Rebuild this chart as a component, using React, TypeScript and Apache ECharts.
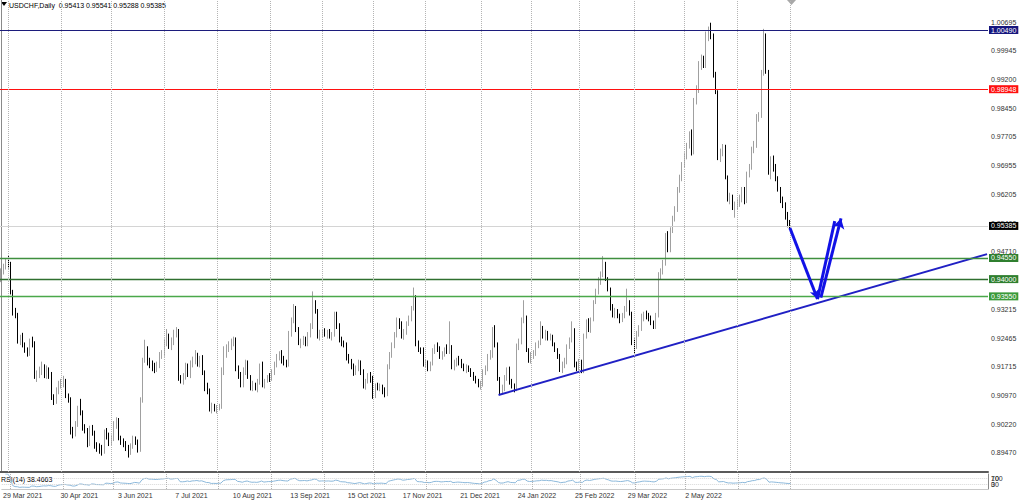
import React, { useEffect, useRef } from "react";
import * as echarts from "echarts";

// ---------- data ----------
const symbolTitle = "USDCHF,Daily";
const lastQuote = ["0.95413", "0.95541", "0.95288", "0.95385"];
const rsiTitle = "RSI(14) 38.4663";
const firstDate = [2021, 2, 29];
const slotCount = 412;

const dateLabels = [
  "29 Mar 2021", "30 Apr 2021", "3 Jun 2021", "7 Jul 2021", "10 Aug 2021", "13 Sep 2021", "15 Oct 2021",
  "17 Nov 2021", "21 Dec 2021", "24 Jan 2022", "25 Feb 2022", "29 Mar 2022", "2 May 2022", "3 Jun 2022",
];

const priceTicks = [
  1.00695, 0.99945, 0.992, 0.9845, 0.97705, 0.96955, 0.96205, 0.9546, 0.9471, 0.93965, 0.93215, 0.92465,
  0.91715, 0.9097, 0.9022, 0.8947,
];
const priceMin = 0.88974;
const priceMax = 1.01272;

const resistanceHigh = 1.0049;
const resistanceMid = 0.98948;
const supportLevels = [0.9455, 0.94, 0.9355];
const bidPrice = 0.95385;

const trendLine = [[207.4, 0.9098], [411.1, 0.9465]];
const arrowDown = [[328.9, 0.9533], [340.4, 0.9348]];
const arrowUpA = [[340.4, 0.9348], [347.6, 0.9551]];
const arrowUpB = [[341.8, 0.9352], [350.2, 0.9558]];

const rsiLevels = [30, 70];
const rsiScaleLabels = [["30", "0"], ["70", "100"]];

// OHLC per trading day: [open, high, low, close]
const barsAprJun2021 = [
  [.9400,.9428,.9392,.9420],[.9420,.9440,.9412,.9432],[.9432,.9455,.9425,.9445],[.9445,.9460,.9428,.9438],
  [.9438,.9445,.9360,.9365],[.9365,.9372,.9305,.9312],[.9312,.9325,.9298,.9305],[.9305,.9312,.9232,.9237],
  [.9237,.9255,.9228,.9242],[.9242,.9260,.9222,.9228],[.9228,.9235,.9208,.9215],[.9215,.9222,.9198,.9205],
  [.9205,.9245,.9200,.9235],[.9235,.9250,.9222,.9230],[.9230,.9238,.9140,.9145],[.9145,.9162,.9132,.9150],
  [.9150,.9172,.9142,.9160],[.9160,.9185,.9150,.9170],[.9170,.9178,.9142,.9150],[.9150,.9175,.9140,.9162],
  [.9162,.9170,.9140,.9150],[.9150,.9158,.9085,.9090],[.9090,.9100,.9072,.9080],[.9080,.9118,.9075,.9110],
  [.9110,.9135,.9100,.9125],[.9125,.9140,.9115,.9130],[.9130,.9148,.9118,.9135],[.9135,.9140,.9090,.9095],
  [.9095,.9102,.9078,.9085],[.9085,.9092,.8995,.9000],[.9000,.9015,.8985,.8998],[.8998,.9030,.8990,.9022],
  [.9022,.9070,.9015,.9062],[.9062,.9088,.9045,.9052],[.9052,.9058,.9005,.9010],[.9010,.9022,.8998,.9005],
  [.9005,.9012,.8962,.8970],[.8970,.9018,.8965,.9010],[.9010,.9020,.8992,.9000],[.9000,.9005,.8958,.8965],
  [.8965,.8975,.8950,.8960],[.8960,.8972,.8945,.8955],[.8955,.8968,.8940,.8950],[.8950,.9008,.8945,.9000],
  [.9000,.9012,.8982,.8990],[.8990,.9000,.8965,.8975],[.8975,.8995,.8968,.8985],[.8985,.9030,.8978,.9020],
  [.9020,.9040,.9010,.9030],[.9030,.9038,.8980,.8985],[.8985,.8992,.8968,.8975],[.8975,.8985,.8962,.8970],
  [.8970,.8978,.8952,.8960],[.8960,.8968,.8935,.8950],[.8950,.8972,.8942,.8965],[.8965,.8992,.8958,.8985],
  [.8985,.8990,.8968,.8975],[.8975,.8982,.8948,.8955],[.8955,.9092,.8950,.9085],[.9085,.9195,.9078,.9190],
];
const barsJulSep2021 = [
  [.9190,.9242,.9182,.9215],[.9215,.9225,.9175,.9180],[.9180,.9195,.9168,.9178],[.9178,.9188,.9160,.9170],
  [.9170,.9182,.9155,.9165],[.9165,.9185,.9158,.9175],[.9175,.9210,.9168,.9200],[.9200,.9215,.9192,.9205],
  [.9205,.9245,.9198,.9235],[.9235,.9270,.9225,.9250],[.9250,.9258,.9218,.9225],[.9225,.9248,.9215,.9235],
  [.9235,.9268,.9228,.9260],[.9260,.9275,.9248,.9265],[.9265,.9270,.9135,.9140],[.9140,.9150,.9128,.9135],
  [.9135,.9155,.9125,.9145],[.9145,.9182,.9138,.9175],[.9175,.9180,.9145,.9150],[.9150,.9188,.9142,.9180],
  [.9180,.9198,.9170,.9185],[.9185,.9215,.9178,.9200],[.9200,.9208,.9172,.9178],[.9178,.9200,.9170,.9190],
  [.9190,.9202,.9150,.9155],[.9155,.9162,.9108,.9115],[.9115,.9130,.9100,.9110],[.9110,.9115,.9055,.9062],
  [.9062,.9078,.9050,.9065],[.9065,.9075,.9055,.9060],[.9060,.9072,.9050,.9065],[.9065,.9075,.9058,.9068],
  [.9068,.9170,.9062,.9160],[.9160,.9225,.9150,.9210],[.9210,.9230,.9195,.9220],[.9220,.9238,.9210,.9225],
  [.9225,.9245,.9215,.9238],[.9238,.9250,.9225,.9240],[.9240,.9248,.9160,.9165],[.9165,.9175,.9140,.9150],
  [.9150,.9158,.9118,.9125],[.9125,.9170,.9118,.9160],[.9160,.9190,.9150,.9180],[.9180,.9188,.9140,.9145],
  [.9145,.9150,.9110,.9120],[.9120,.9135,.9108,.9125],[.9125,.9130,.9110,.9115],[.9115,.9140,.9105,.9132],
  [.9132,.9180,.9125,.9172],[.9172,.9185,.9118,.9122],[.9122,.9140,.9115,.9135],[.9135,.9150,.9130,.9145],
  [.9145,.9155,.9132,.9140],[.9140,.9165,.9135,.9158],[.9158,.9185,.9150,.9178],[.9178,.9205,.9170,.9198],
  [.9198,.9212,.9188,.9205],[.9205,.9215,.9180,.9190],[.9190,.9200,.9175,.9182],[.9182,.9190,.9170,.9178],
];
const barsSepDec2021 = [
  [.9178,.9265,.9172,.9258],[.9258,.9300,.9250,.9292],[.9292,.9335,.9285,.9325],[.9325,.9330,.9262,.9268],
  [.9268,.9275,.9228,.9232],[.9232,.9245,.9220,.9238],[.9238,.9252,.9228,.9245],[.9245,.9250,.9225,.9230],
  [.9230,.9262,.9225,.9255],[.9255,.9285,.9248,.9278],[.9278,.9368,.9270,.9335],[.9335,.9345,.9310,.9318],
  [.9318,.9322,.9245,.9250],[.9250,.9268,.9240,.9258],[.9258,.9270,.9248,.9262],[.9262,.9272,.9250,.9255],
  [.9255,.9268,.9245,.9260],[.9260,.9270,.9245,.9250],[.9250,.9262,.9240,.9255],[.9255,.9315,.9250,.9298],
  [.9298,.9315,.9270,.9280],[.9280,.9285,.9235,.9240],[.9240,.9250,.9225,.9232],[.9232,.9240,.9222,.9228],
  [.9228,.9235,.9188,.9195],[.9195,.9205,.9180,.9188],[.9188,.9192,.9165,.9170],[.9170,.9180,.9148,.9155],
  [.9155,.9175,.9150,.9168],[.9168,.9190,.9160,.9182],[.9182,.9188,.9150,.9158],[.9158,.9165,.9115,.9120],
  [.9120,.9140,.9112,.9135],[.9135,.9155,.9128,.9148],[.9148,.9158,.9130,.9140],[.9140,.9148,.9088,.9095],
  [.9095,.9128,.9090,.9120],[.9120,.9130,.9110,.9115],[.9115,.9128,.9108,.9120],[.9120,.9125,.9100,.9110],
  [.9110,.9118,.9092,.9100],[.9100,.9178,.9095,.9170],[.9170,.9210,.9165,.9202],[.9202,.9235,.9195,.9228],
  [.9228,.9262,.9220,.9255],[.9255,.9300,.9248,.9292],[.9292,.9298,.9270,.9280],[.9280,.9290,.9245,.9250],
  [.9250,.9270,.9242,.9262],[.9262,.9290,.9255,.9285],[.9285,.9305,.9278,.9298],[.9298,.9330,.9290,.9325],
  [.9325,.9378,.9318,.9350],[.9350,.9358,.9225,.9230],[.9230,.9240,.9210,.9218],[.9218,.9222,.9205,.9215],
  [.9215,.9222,.9172,.9178],[.9178,.9190,.9170,.9182],[.9182,.9188,.9160,.9165],[.9165,.9185,.9160,.9180],
];
const barsDec2021Mar2022 = [
  [.9180,.9220,.9175,.9215],[.9215,.9230,.9205,.9222],[.9222,.9235,.9210,.9218],[.9218,.9225,.9192,.9198],
  [.9198,.9212,.9190,.9205],[.9205,.9222,.9198,.9215],[.9215,.9230,.9205,.9210],[.9210,.9290,.9205,.9220],
  [.9220,.9228,.9165,.9170],[.9170,.9190,.9162,.9180],[.9180,.9195,.9172,.9188],[.9188,.9200,.9175,.9182],
  [.9182,.9192,.9168,.9175],[.9175,.9180,.9160,.9165],[.9165,.9178,.9155,.9170],[.9170,.9175,.9158,.9162],
  [.9162,.9168,.9145,.9150],[.9150,.9158,.9135,.9140],[.9140,.9148,.9128,.9135],[.9135,.9140,.9118,.9122],
  [.9122,.9135,.9112,.9128],[.9128,.9165,.9120,.9158],[.9158,.9175,.9150,.9168],[.9168,.9205,.9160,.9198],
  [.9198,.9215,.9190,.9205],[.9205,.9275,.9195,.9268],[.9268,.9280,.9222,.9228],[.9228,.9235,.9135,.9140],
  [.9140,.9145,.9100,.9110],[.9110,.9125,.9102,.9115],[.9115,.9150,.9108,.9142],[.9142,.9170,.9135,.9165],
  [.9165,.9172,.9125,.9130],[.9130,.9140,.9115,.9122],[.9122,.9128,.9105,.9112],[.9112,.9232,.9108,.9225],
  [.9225,.9245,.9215,.9238],[.9238,.9300,.9230,.9292],[.9292,.9345,.9285,.9300],[.9300,.9305,.9210,.9215],
  [.9215,.9220,.9182,.9188],[.9188,.9210,.9180,.9200],[.9200,.9215,.9192,.9208],[.9208,.9235,.9200,.9228],
  [.9228,.9240,.9220,.9232],[.9232,.9290,.9228,.9265],[.9265,.9278,.9245,.9255],[.9255,.9268,.9240,.9260],
  [.9260,.9265,.9240,.9245],[.9245,.9258,.9240,.9250],[.9250,.9255,.9225,.9230],[.9230,.9235,.9210,.9215],
  [.9215,.9220,.9192,.9198],[.9198,.9205,.9158,.9165],[.9165,.9185,.9155,.9178],[.9178,.9195,.9168,.9185],
  [.9185,.9230,.9178,.9225],[.9225,.9248,.9218,.9240],[.9240,.9290,.9235,.9265],[.9265,.9272,.9170,.9176],
];
const barsMarMay2022 = [
  [.9176,.9185,.9160,.9168],[.9168,.9192,.9162,.9185],[.9185,.9190,.9155,.9160],[.9160,.9258,.9155,.9250],
  [.9250,.9295,.9245,.9290],[.9290,.9298,.9262,.9268],[.9268,.9300,.9260,.9295],[.9295,.9345,.9290,.9340],
  [.9340,.9375,.9335,.9368],[.9368,.9405,.9360,.9398],[.9398,.9420,.9385,.9412],[.9412,.9460,.9405,.9440],
  [.9440,.9445,.9395,.9400],[.9400,.9405,.9368,.9372],[.9372,.9378,.9318,.9322],[.9322,.9335,.9300,.9310],
  [.9310,.9325,.9298,.9318],[.9318,.9322,.9298,.9302],[.9302,.9310,.9285,.9295],[.9295,.9312,.9288,.9305],
  [.9305,.9330,.9298,.9325],[.9325,.9375,.9315,.9340],[.9340,.9345,.9305,.9310],[.9310,.9315,.9228,.9232],
  [.9232,.9245,.9205,.9225],[.9225,.9265,.9218,.9258],[.9258,.9280,.9250,.9272],[.9272,.9310,.9265,.9300],
  [.9300,.9315,.9290,.9308],[.9308,.9318,.9295,.9302],[.9302,.9312,.9290,.9298],[.9298,.9305,.9280,.9285],
  [.9285,.9292,.9270,.9275],[.9275,.9312,.9270,.9305],[.9305,.9418,.9300,.9410],[.9410,.9428,.9400,.9420],
  [.9420,.9450,.9412,.9442],[.9442,.9520,.9435,.9512],[.9512,.9525,.9470,.9478],[.9478,.9535,.9470,.9528],
  [.9528,.9565,.9520,.9560],[.9560,.9590,.9550,.9582],[.9582,.9640,.9575,.9632],[.9632,.9672,.9625,.9665],
  [.9665,.9705,.9655,.9698],[.9698,.9730,.9690,.9725],[.9725,.9755,.9712,.9748],[.9748,.9785,.9740,.9778],
  [.9778,.9790,.9722,.9730],[.9730,.9872,.9725,.9865],[.9865,.9905,.9855,.9895],[.9895,.9968,.9885,.9960],
  [.9960,.9985,.9945,.9975],[.9975,.9982,.9950,.9958],[.9958,1.0045,.9950,1.0036],[1.0036,1.0058,1.0020,1.0045],
  [1.0045,1.0068,1.0025,1.0030],[1.0030,1.0040,.9925,.9930],[.9930,.9940,.9882,.9888],[.9888,.9892,.9710,.9718],
];
const barsMayJul2022 = [
  [.9718,.9740,.9705,.9730],[.9730,.9752,.9720,.9745],[.9745,.9750,.9660,.9665],[.9665,.9670,.9602,.9608],
  [.9608,.9625,.9595,.9615],[.9615,.9620,.9580,.9585],[.9585,.9602,.9560,.9595],[.9595,.9610,.9580,.9600],
  [.9600,.9620,.9588,.9612],[.9612,.9640,.9600,.9632],[.9632,.9640,.9595,.9602],[.9602,.9680,.9598,.9672],
  [.9672,.9700,.9665,.9692],[.9692,.9745,.9685,.9738],[.9738,.9760,.9728,.9750],[.9750,.9830,.9742,.9822],
  [.9822,.9835,.9810,.9828],[.9828,.9945,.9820,.9938],[.9938,1.0052,.9930,1.0012],[1.0012,1.0040,.9935,.9940],
  [.9940,.9945,.9672,.9680],[.9680,.9720,.9660,.9710],[.9710,.9722,.9680,.9690],[.9690,.9700,.9655,.9662],
  [.9662,.9668,.9628,.9635],[.9635,.9640,.9598,.9605],[.9605,.9615,.9585,.9595],[.9595,.9600,.9555,.9560],
  [.9560,.9575,.9535,.9541],[.95413,.95541,.95288,.95385],
];

// ---------- derived ----------
const bars = [
  ...barsAprJun2021, ...barsJulSep2021, ...barsSepDec2021,
  ...barsDec2021Mar2022, ...barsMarMay2022, ...barsMayJul2022,
];
const MONTHS = ["Jan", "Feb", "Mar", "Apr", "May", "Jun", "Jul", "Aug", "Sep", "Oct", "Nov", "Dec"];
const categories: string[] = [];
const monthOf: number[] = [];
{
  let t = Date.UTC(firstDate[0], firstDate[1], firstDate[2]);
  while (categories.length < slotCount) {
    const d = new Date(t);
    const wd = d.getUTCDay();
    if (wd !== 0 && wd !== 6) {
      categories.push(`${d.getUTCDate()} ${MONTHS[d.getUTCMonth()]} ${d.getUTCFullYear()}`);
      monthOf.push(d.getUTCMonth());
    }
    t += 86400000;
  }
}
const monthStarts: number[] = [];
for (let i = 1; i < bars.length; i++) if (monthOf[i] !== monthOf[i - 1]) monthStarts.push(i);

const closes = bars.map((b) => b[3]);
function computeRsi(c: number[], period: number) {
  const out: (number | string)[] = ["-"];
  let ag = 0;
  let al = 0;
  for (let i = 1; i < c.length; i++) {
    const ch = c[i] - c[i - 1];
    const g = Math.max(ch, 0);
    const l = Math.max(-ch, 0);
    const n = Math.min(i, period);
    ag = (ag * (n - 1) + g) / n;
    al = (al * (n - 1) + l) / n;
    out.push(al === 0 ? 100 : 100 - 100 / (1 + ag / al));
  }
  return out;
}
const rsiValues = computeRsi(closes, 14);

const FONT = "Liberation Sans, Arial, sans-serif";

export default function App() {
  const ref = useRef<HTMLDivElement>(null);
  useEffect(() => {
    if (!ref.current) return;
    const chart = echarts.init(ref.current, null, { renderer: "svg" });
    const levelLabel = (bg: string) => ({
      show: true,
      position: "end",
      distance: 1,
      formatter: (p: any) => Number(p.value).toFixed(5),
      color: "#ffffff",
      backgroundColor: bg,
      padding: [1, 2, 0, 2],
      fontSize: 7,
      fontFamily: FONT,
    });
    const supportColors = ["#3f8f3f", "#2f6f2f", "#4aa84a"];
    const supportBoxes = ["#2f7f2f", "#2f7f2f", "#3a9a3a"];

    // one small axis per RSI scale label so none of them is hidden by overlap handling
    const rsiScaleAxes: any[] = [];
    rsiLevels.forEach((lvl, k) => {
      rsiScaleLabels[k].forEach((txt) => {
        rsiScaleAxes.push({
          type: "value", gridIndex: 1, position: "right", min: 0, max: 100,
          axisLine: { show: false }, axisTick: { show: false }, splitLine: { show: false },
          axisLabel: {
            customValues: [lvl],
            formatter: () => txt,
            fontSize: 7, color: "#333333", margin: 3, fontFamily: FONT,
          },
        });
      });
    });

    const option: any = {
      animation: false,
      textStyle: { fontFamily: FONT },
      grid: [
        { left: 0, top: 0, width: 988, height: 472 },
        { left: 0, top: 474, width: 988, height: 15 },
      ],
      xAxis: [
        {
          type: "category", gridIndex: 0, data: categories, boundaryGap: true,
          axisLine: { show: true, lineStyle: { color: "#5a5a5a", width: 2 } },
          axisTick: { show: false }, axisLabel: { show: false }, splitLine: { show: false },
        },
        { type: "value", gridIndex: 0, min: -0.5, max: slotCount - 0.5, show: false },
        {
          type: "category", gridIndex: 1, data: categories, boundaryGap: true,
          axisLine: { show: true, lineStyle: { color: "#c8c8c8", width: 1 } },
          axisTick: { show: false }, splitLine: { show: false },
          axisLabel: {
            show: true,
            interval: (_i: number, v: string) => dateLabels.includes(v),
            showMaxLabel: false,
            align: "left",
            fontSize: 7,
            color: "#333333",
            margin: 3,
            fontFamily: FONT,
          },
        },
      ],
      yAxis: [
        {
          type: "value", gridIndex: 0, position: "right", min: priceMin, max: priceMax,
          axisLine: { show: true, lineStyle: { color: "#8a8a8a" } },
          axisTick: { show: false }, splitLine: { show: false },
          axisLabel: {
            customValues: priceTicks,
            hideOverlap: false,
            formatter: (v: number) => v.toFixed(5),
            fontSize: 7, color: "#333333", margin: 3, fontFamily: FONT,
          },
        },
        {
          type: "value", gridIndex: 1, position: "right", min: 0, max: 100,
          axisLine: { show: true, lineStyle: { color: "#8a8a8a" } },
          axisTick: { show: false }, splitLine: { show: false }, axisLabel: { show: false },
        },
        ...rsiScaleAxes,
      ],
      series: [
        {
          type: "candlestick",
          xAxisIndex: 0, yAxisIndex: 0,
          data: bars.map(([o, h, l, c]) => [o, c, l, h]),
          barWidth: 1.3,
          itemStyle: {
            color: "#e2e2e2", color0: "#000000",
            borderColor: "#a0a0a0", borderColor0: "#000000", borderWidth: 1,
          },
          silent: true,
          markLine: {
            silent: true, symbol: ["none", "none"], precision: 5,
            data: [
              { yAxis: bidPrice, lineStyle: { color: "#d4d4d4", width: 1, type: "solid" }, label: levelLabel("#000000") },
              { yAxis: resistanceHigh, lineStyle: { color: "#1c1c7c", width: 1.2, type: "solid" }, label: levelLabel("#16167e") },
              { yAxis: resistanceMid, lineStyle: { color: "#ff1010", width: 1.2, type: "solid" }, label: levelLabel("#ff1010") },
              ...supportLevels.map((v, k) => ({
                yAxis: v,
                lineStyle: { color: supportColors[k], width: 1.4, type: "solid" },
                label: levelLabel(supportBoxes[k]),
              })),
            ],
          },
        },
        {
          type: "line",
          xAxisIndex: 1, yAxisIndex: 0,
          data: trendLine,
          showSymbol: false, symbol: "none",
          lineStyle: { color: "#2020c4", width: 2 },
          silent: true,
          z: 3,
          markLine: {
            silent: true, symbol: ["none", "none"], precision: 5,
            label: { show: false },
            data: [
              ...monthStarts.map((i) => ({ xAxis: i, lineStyle: { color: "#b4b4b4", width: 1, type: "dotted" } })),
              [
                { coord: arrowDown[0], symbol: "none" },
                { coord: arrowDown[1], symbol: "arrow", symbolSize: [7, 9], lineStyle: { color: "#1212e6", width: 3, type: "solid" } },
              ],
              [
                { coord: arrowUpA[0], symbol: "none" },
                { coord: arrowUpA[1], symbol: "none", lineStyle: { color: "#1212e6", width: 3, type: "solid" } },
              ],
              [
                { coord: arrowUpB[0], symbol: "none" },
                { coord: arrowUpB[1], symbol: "arrow", symbolSize: [9, 10], lineStyle: { color: "#1212e6", width: 3, type: "solid" } },
              ],
            ],
          },
        },
        {
          type: "line",
          xAxisIndex: 2, yAxisIndex: 1,
          data: rsiValues,
          showSymbol: false, symbol: "none",
          lineStyle: { color: "#8cb8da", width: 1 },
          silent: true,
          markLine: {
            silent: true, symbol: ["none", "none"],
            label: { show: false },
            data: [
              ...rsiLevels.map((v) => ({ yAxis: v, lineStyle: { color: "#d8d8d8", width: 1, type: "dotted" } })),
              ...monthStarts.map((i) => ({ xAxis: categories[i], lineStyle: { color: "#b4b4b4", width: 1, type: "dotted" } })),
            ],
          },
        },
      ],
      graphic: [
        { type: "polygon", shape: { points: [[1, 2], [7, 2], [4, 6]] }, style: { fill: "#000000" }, silent: true },
        {
          type: "text", x: 9, y: 5, silent: true,
          style: {
            text: `${symbolTitle}  ${lastQuote.join(" ")}`,
            fontSize: 7, fontFamily: FONT, fill: "#000000", verticalAlign: "middle",
          },
        },
        {
          type: "text", x: 1, y: 479, silent: true,
          style: { text: rsiTitle, fontSize: 7, fontFamily: FONT, fill: "#000000", verticalAlign: "middle" },
        },
        { type: "polygon", shape: { points: [[787, 0], [796, 0], [791.5, 5]] }, style: { fill: "#a8a8a8" }, silent: true },
      ],
    };
    chart.setOption(option);
    return () => chart.dispose();
  }, []);
  return (
    <div
      ref={ref}
      style={{ position: "fixed", left: 0, top: 0, width: 1024, height: 501, background: "#ffffff" }}
    />
  );
}
